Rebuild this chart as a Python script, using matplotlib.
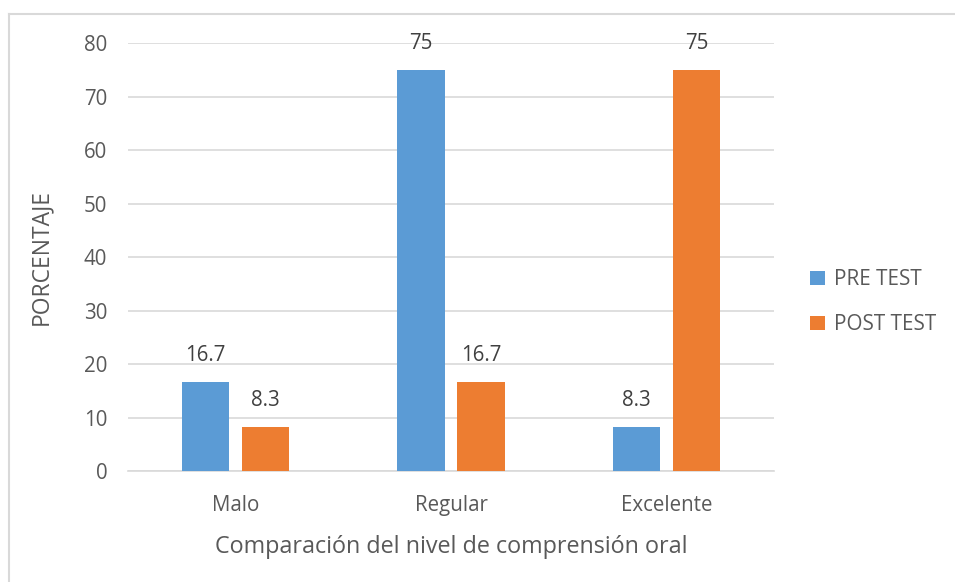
import numpy as np
import matplotlib.pyplot as plt
from matplotlib.lines import Line2D

plt.rcParams['font.family'] = ['Open Sans', 'DejaVu Sans']

categorias = ['Malo', 'Regular', 'Excelente']
pre_test = [16.7, 75, 8.3]
post_test = [8.3, 16.7, 75]
etiquetas_pre = ['16.7', '75', '8.3']
etiquetas_post = ['8.3', '16.7', '75']

gris = '#595959'
fig = plt.figure(figsize=(9.55, 5.82), dpi=100)
ax = fig.add_axes([0.134, 0.1907, 0.6765, 0.7354])

x = np.arange(len(categorias))
w = 0.22
b1 = ax.bar(x - 0.14, pre_test, w, color='#5B9BD5', label='PRE TEST', zorder=3)
b2 = ax.bar(x + 0.14, post_test, w, color='#ED7D31', label='POST TEST', zorder=3)

for rect, t in zip(b1, etiquetas_pre):
    ax.text(rect.get_x() + rect.get_width() / 2, rect.get_height() + 3.0, t,
            ha='center', va='bottom', fontsize=14.8, color='#404040')
for rect, t in zip(b2, etiquetas_post):
    ax.text(rect.get_x() + rect.get_width() / 2, rect.get_height() + 3.0, t,
            ha='center', va='bottom', fontsize=14.8, color='#404040')

ax.set_xlim(-0.5, 2.5)
ax.set_ylim(0, 80)
ax.set_yticks(range(0, 81, 10))
ax.set_xticks(x)
ax.set_xticklabels(categorias)
ax.tick_params(axis='both', length=0, labelsize=14.8, labelcolor=gris)
ax.tick_params(axis='y', pad=15)
ax.tick_params(axis='x', pad=17)
ax.yaxis.grid(True, color='#D9D9D9', lw=1.2, zorder=0)
for s in ['top', 'right', 'left']:
    ax.spines[s].set_visible(False)
ax.spines['bottom'].set_color('#D9D9D9')
ax.spines['bottom'].set_linewidth(1.2)

ax.set_xlabel('Comparación del nivel de comprensión oral', fontsize=16.8, color=gris, labelpad=14)
ax.set_ylabel('PORCENTAJE', fontsize=16.5, color=gris, labelpad=22)

ax.legend(loc='center left', bbox_to_anchor=(1.027, 0.394), frameon=False,
          fontsize=14.9, labelcolor=gris, handlelength=0.7, handleheight=0.7,
          labelspacing=1.15, handletextpad=0.45)

# marco gris del grafico
fig.add_artist(Line2D([9 / 955, 9 / 955], [0, 1 - 14 / 582], color='#D9D9D9', lw=1.5))
fig.add_artist(Line2D([9 / 955, 1], [1 - 14 / 582, 1 - 14 / 582], color='#D9D9D9', lw=1.5))

fig.savefig('out.png', dpi=100)
